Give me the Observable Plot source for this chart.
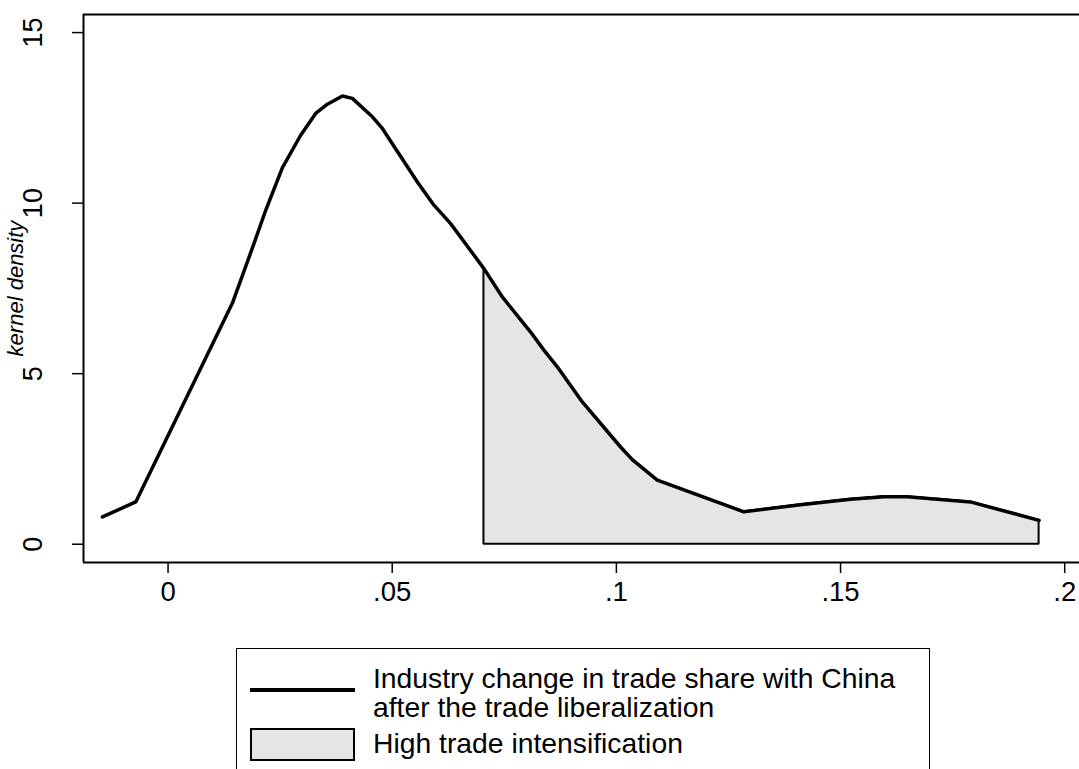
<!DOCTYPE html>
<html>
<head>
<meta charset="utf-8">
<script src="https://cdn.jsdelivr.net/npm/d3@7"></script>
<script src="https://cdn.jsdelivr.net/npm/@observablehq/plot@0.6"></script>
<style>
  html, body { margin: 0; padding: 0; background: #fff; }
  #wrap { position: relative; width: 1079px; height: 769px; overflow: hidden; font-family: "Liberation Sans", Arial, sans-serif; }
  #legend { position: absolute; left: 236px; top: 648px; width: 694px; height: 160px; border: 1.5px solid #000; box-sizing: border-box; background: #fff; }
  .lg-line { position: absolute; left: 13px; top: 39px; width: 105px; height: 3.5px; background: #000; }
  .lg-box { position: absolute; left: 13px; top: 79px; width: 105px; height: 33px; background: #e5e5e5; border: 2px solid #000; box-sizing: border-box; }
  .lg-text { position: absolute; left: 136px; font-size: 28.3px; line-height: 28px; color: #000; white-space: nowrap; }
</style>
</head>
<body>
<div id="wrap">
  <div id="chart"></div>
  <div id="legend"></div>
</div>
<script>
// Kernel density curve (x = change in trade share, y = density)
const densX = [-0.01463, -0.00720, 0.01436, 0.01918, 0.02178, 0.02551, 0.02958, 0.03293, 0.03554, 0.03889, 0.04111, 0.04557, 0.04780, 0.05561, 0.05931, 0.06303, 0.07046, 0.07456, 0.08087, 0.08384, 0.08682, 0.09240, 0.10094, 0.10355, 0.10912, 0.12843, 0.14107, 0.15222, 0.15965, 0.16486, 0.17897, 0.19429];
const densY = [0.80, 1.24, 7.07, 8.82, 9.79, 11.04, 11.99, 12.63, 12.90, 13.14, 13.07, 12.53, 12.19, 10.62, 9.94, 9.40, 8.08, 7.25, 6.22, 5.69, 5.20, 4.17, 2.85, 2.48, 1.88, 0.95, 1.16, 1.32, 1.39, 1.39, 1.24, 0.70];
const cutoff = 0.0704; // start of high trade intensification region

const xDomain = [-0.01886, 0.2033];
const yDomain = [-0.536, 15.53];
const xTicks = [0, 0.05, 0.1, 0.15, 0.2];
const xTickLabels = ["0", ".05", ".1", ".15", ".2"];
const yTicks = [0, 5, 10, 15];
const yTickLabels = ["0", "5", "10", "15"];
const yTitle = "kernel density";
const legendLabels = ["Industry change in trade share with China", "after the trade liberalization", "High trade intensification"];

const data = densX.map((x, i) => ({x, y: densY[i]}));
const high = data.filter(d => d.x >= cutoff);
const xTickData = xTicks.map((v, i) => ({v, label: xTickLabels[i]}));
const yTickData = yTicks.map((v, i) => ({v, label: yTickLabels[i]}));

const font = "'Liberation Sans', Arial, sans-serif";

const chart = Plot.plot({
  width: 1079,
  height: 610,
  marginLeft: 83,
  marginRight: 0,
  marginTop: 14,
  marginBottom: 48,
  style: {fontFamily: font, background: "#fff", overflow: "visible"},
  x: {domain: xDomain, axis: null},
  y: {domain: yDomain, axis: null},
  marks: [
    Plot.areaY(high, {x: "x", y1: 0, y2: "y", fill: "#e5e5e5", stroke: "#000", strokeWidth: 2, strokeLinejoin: "miter"}),
    Plot.line(data, {x: "x", y: "y", stroke: "#000", strokeWidth: 3.5, strokeLinejoin: "round"}),
    // frame lines
    Plot.ruleY([yDomain[1]], {stroke: "#000", strokeWidth: 2}),
    Plot.ruleY([yDomain[0]], {stroke: "#000", strokeWidth: 2}),
    Plot.ruleX([xDomain[0]], {stroke: "#000", strokeWidth: 2}),
    // ticks
    Plot.axisX({ticks: xTicks, tickSize: 11, tickFormat: () => "", label: null, strokeWidth: 1.5}),
    Plot.axisY({ticks: yTicks, tickSize: 11, tickFormat: () => "", label: null, strokeWidth: 1.5}),
    // tick labels
    Plot.text(xTickData, {x: "v", y: yDomain[0], text: "label", dy: 30, fontSize: 27.5, fill: "#000", lineAnchor: "middle"}),
    Plot.text(yTickData, {x: xDomain[0], y: "v", text: "label", dx: -50, rotate: -90, fontSize: 27, fill: "#000", lineAnchor: "middle"}),
    // y axis title
    Plot.text([yTitle], {frameAnchor: "left", dx: -68, rotate: -90, text: d => d, fontSize: 22, fontStyle: "italic", fill: "#000", lineAnchor: "middle", textAnchor: "middle"})
  ]
});
document.getElementById("chart").appendChild(chart);

const lg = document.getElementById("legend");
lg.innerHTML = `
  <div class="lg-line"></div>
  <div class="lg-text" style="top: 15px">${legendLabels[0]}</div>
  <div class="lg-text" style="top: 44px">${legendLabels[1]}</div>
  <div class="lg-box"></div>
  <div class="lg-text" style="top: 80px">${legendLabels[2]}</div>
`;
</script>
</body>
</html>
